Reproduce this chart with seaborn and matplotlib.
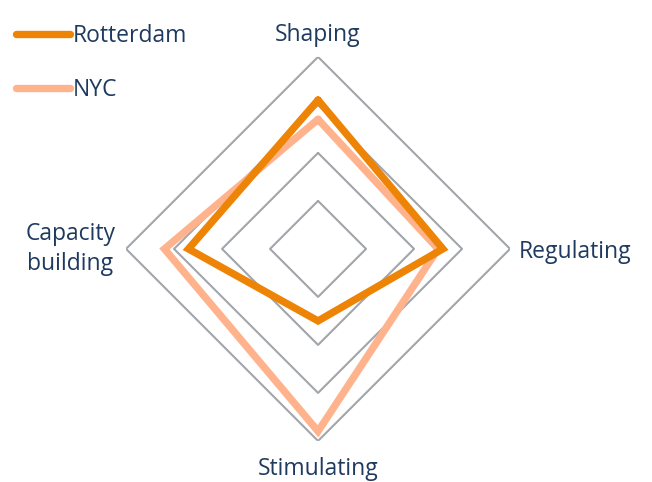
import numpy as np
import pandas as pd
import matplotlib.pyplot as plt
import seaborn as sns
from matplotlib.lines import Line2D

categories = ['Shaping', 'Regulating', 'Stimulating', 'Capacity\nbuilding']
rotterdam = [3.1, 2.6, 1.5, 2.7]
nyc = [2.7, 2.5, 3.8, 3.2]
rings = [1, 2, 3, 4]

sns.set_theme(style='white')
plt.rcParams['font.family'] = ['Open Sans', 'DejaVu Sans']
text_color = '#1F3A5F'
colors = {'Rotterdam': '#EE8405', 'NYC': '#FFB38C'}

angles = np.linspace(0, 2 * np.pi, len(categories), endpoint=False)
closed = np.append(angles, 2 * np.pi)

fig = plt.figure(figsize=(6.52, 4.82), dpi=100)
ax = fig.add_axes([0.1933, 0.0851, 0.589, 0.797], projection='polar')
ax.set_theta_offset(np.pi / 2)
ax.set_theta_direction(-1)

# diamond grid
for r in rings:
    ax.plot(closed, [r] * len(closed), color='#A2A5AB', lw=1.5, zorder=1)

def frame(vals, name):
    return pd.DataFrame({'theta': closed, 'r': vals + vals[:1], 'city': name})

sns.lineplot(data=frame(nyc, 'NYC'), x='theta', y='r', sort=False, estimator=None,
             color=colors['NYC'], lw=5.3, ax=ax, legend=False, zorder=3,
             solid_joinstyle='miter')
sns.lineplot(data=frame(rotterdam, 'Rotterdam'), x='theta', y='r', sort=False, estimator=None,
             color=colors['Rotterdam'], lw=5.3, ax=ax, legend=False, zorder=4,
             solid_joinstyle='miter')

ax.set_ylim(0, 4)
ax.set_xticks([])
ax.set_yticks([])
ax.set_xlabel('')
ax.set_ylabel('')
ax.grid(False)
ax.spines['polar'].set_visible(False)

fs = 16.5
ax.text(angles[0], 4.45, categories[0], ha='center', va='center', fontsize=fs, color=text_color)
ax.text(angles[1], 4.19, categories[1], ha='left', va='center_baseline', fontsize=fs, color=text_color)
ax.text(angles[2], 4.58, categories[2], ha='center', va='center', fontsize=fs, color=text_color)
ax.text(angles[3], 4.22, categories[3], ha='right', va='center', fontsize=fs, color=text_color,
        multialignment='center', linespacing=1.35)

handles = [Line2D([0], [0], color=colors['Rotterdam'], lw=5.3, solid_capstyle='round'),
           Line2D([0], [0], color=colors['NYC'], lw=5.3, solid_capstyle='round')]
leg = fig.legend(handles, ['Rotterdam', 'NYC'], loc='upper left', bbox_to_anchor=(0.018, 0.96),
                 frameon=False, fontsize=fs, handlelength=2.35, handletextpad=0.1,
                 labelspacing=1.33, borderaxespad=0.0, borderpad=0.2)
for t in leg.get_texts():
    t.set_color(text_color)

fig.savefig('out.png', dpi=100)
